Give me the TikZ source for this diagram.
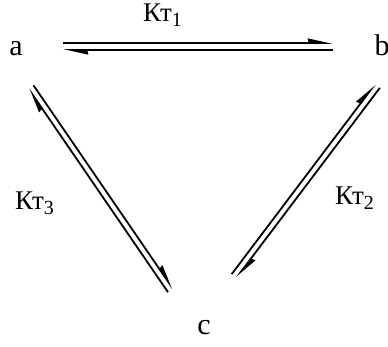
\documentclass[tikz,border=0pt]{standalone}
\usepackage{fontspec}
\setmainfont{Liberation Serif}
\usetikzlibrary{arrows.meta, calc}
\definecolor{inkBlack}{RGB}{0, 0, 0}
\newcommand{\rateK}[1]{Кт\raisebox{-0.45ex}{\fontsize{20}{20}\selectfont #1}}
\tikzset{
  stateLabel/.style={
    anchor=base,
    inner sep=0pt,
    font=\fontsize{30}{30}\selectfont\color{inkBlack}
  },
  rateLabel/.style={
    anchor=base west,
    inner sep=0pt,
    font=\fontsize{27}{27}\selectfont\color{inkBlack}
  },
  eqHarpoon/.style={
    draw=inkBlack,
    line width=1.8pt,
    -{Stealth[left, length=21pt, width=9pt, inset=1pt]}
  }
}

\begin{document}
\begin{tikzpicture}[x=1pt, y=-1pt]
  \useasboundingbox (0,0) rectangle (388,346);
  % species
  \node[stateLabel] (a) at (16,55) {a};
  \node[stateLabel] (b) at (382,55) {b};
  \node[stateLabel] (c) at (204,334) {c};
  % ends of the three equilibria
  \coordinate (abStart) at (63,46.5);
  \coordinate (abEnd) at (333,46.5);
  \coordinate (bcStart) at (377.5,86);
  \coordinate (bcEnd) at (234,276);
  \coordinate (acStart) at (31,87);
  \coordinate (acEnd) at (170.5,290.5);
  % a <=> b
  \draw[eqHarpoon] ($(abStart)!3.5pt!90:(abEnd)$) -- ($(abEnd)!3.5pt!-90:(abStart)$);
  \draw[eqHarpoon] ($(abEnd)!3.5pt!90:(abStart)$) -- ($(abStart)!3.5pt!-90:(abEnd)$);
  % b <=> c
  \draw[eqHarpoon] ($(bcStart)!3pt!90:(bcEnd)$) -- ($(bcEnd)!3pt!-90:(bcStart)$);
  \draw[eqHarpoon] ($(bcEnd)!3pt!90:(bcStart)$) -- ($(bcStart)!3pt!-90:(bcEnd)$);
  % a <=> c
  \draw[eqHarpoon] ($(acStart)!3pt!90:(acEnd)$) -- ($(acEnd)!3pt!-90:(acStart)$);
  \draw[eqHarpoon] ($(acEnd)!3pt!90:(acStart)$) -- ($(acStart)!3pt!-90:(acEnd)$);
  % rate constants
  \node[rateLabel] (k1) at (143,21) {\rateK{1}};
  \node[rateLabel] (k2) at (335,204) {\rateK{2}};
  \node[rateLabel] (k3) at (15,209) {\rateK{3}};
\end{tikzpicture}
\end{document}
